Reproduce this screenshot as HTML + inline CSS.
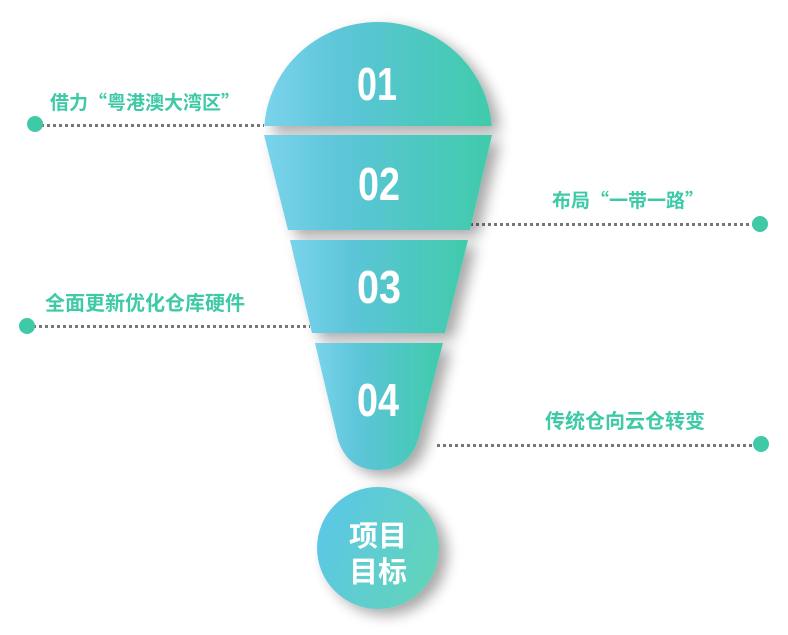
<!DOCTYPE html>
<html><head><meta charset="utf-8"><style>
html,body{margin:0;padding:0;background:#fff;width:788px;height:635px;overflow:hidden}
.t{font-family:"Liberation Sans","Noto Sans CJK SC",sans-serif;font-weight:bold;}
.q{font-family:"Noto Sans CJK SC",sans-serif;}
</style></head><body>
<svg width="788" height="635" viewBox="0 0 788 635" xmlns="http://www.w3.org/2000/svg">
<defs>
<linearGradient id="g" x1="0" y1="0" x2="1" y2="0">
<stop offset="0" stop-color="#7ad3ec"/><stop offset="0.35" stop-color="#5cc5d8"/><stop offset="1" stop-color="#40cbab"/>
</linearGradient>
<linearGradient id="gc" x1="0" y1="0.3" x2="1" y2="0.7">
<stop offset="0" stop-color="#5bc7e6"/><stop offset="1" stop-color="#62d4b8"/>
</linearGradient>
<filter id="sh" x="-30%" y="-30%" width="160%" height="160%">
<feGaussianBlur in="SourceAlpha" stdDeviation="7"/><feOffset dx="8" dy="6"/>
<feComponentTransfer><feFuncA type="linear" slope="0.35"/></feComponentTransfer>
<feMerge><feMergeNode/><feMergeNode in="SourceGraphic"/></feMerge>
</filter>
<clipPath id="c1"><rect x="0" y="0" width="788" height="126"/></clipPath>
</defs>
<g stroke="#777" stroke-width="3" stroke-dasharray="3,3">
<line x1="35" y1="125.5" x2="264" y2="125.5"/>
<line x1="470" y1="224.5" x2="760" y2="224.5"/>
<line x1="27" y1="326.5" x2="310" y2="326.5"/>
<line x1="437" y1="445.5" x2="761" y2="445.5"/>
</g>
<g fill="#3ec9a7">
<circle cx="35" cy="124" r="8"/><circle cx="760" cy="224" r="8"/>
<circle cx="27" cy="326" r="8"/><circle cx="761" cy="444" r="8"/>
</g>
<g filter="url(#sh)">
<g clip-path="url(#c1)"><ellipse cx="378" cy="134" rx="114" ry="112" fill="url(#g)"/></g>
<polygon points="264,135 492,135 470,230 288,230" fill="url(#g)"/>
<polygon points="290,240 468,240 445,333 312,333" fill="url(#g)"/>
<path d="M315,343 L443,343 L418,440 Q408,470 378,470 Q348,470 338,440 Z" fill="url(#g)"/>
<circle cx="378" cy="548" r="61" fill="url(#gc)"/>
</g>
<g fill="#fff" font-size="46" text-anchor="middle" style="font-family:'Liberation Sans',sans-serif;font-weight:bold">
<text x="377" y="100" textLength="40" lengthAdjust="spacingAndGlyphs">01</text>
<text x="379" y="200" textLength="42" lengthAdjust="spacingAndGlyphs">02</text>
<text x="379" y="303" textLength="44" lengthAdjust="spacingAndGlyphs">03</text>
<text x="378" y="416" textLength="42" lengthAdjust="spacingAndGlyphs">04</text>
</g>
<g class="t" fill="#fff" font-size="29" text-anchor="middle">
<text x="378" y="546">项目</text>
<text x="378" y="582">目标</text>
</g>
<g class="t" fill="#3ec9a7" font-size="19">
<text x="50" y="109">借力<tspan class="q">“</tspan>粤港澳大湾区<tspan class="q">”</tspan></text>
<text x="552" y="207">布局<tspan class="q">“</tspan>一带一路<tspan class="q">”</tspan></text>
</g>
<g class="t" fill="#3ec9a7" font-size="20">
<text x="45" y="310">全面更新优化仓库硬件</text>
<text x="545" y="428">传统仓向云仓转变</text>
</g>
</svg>
</body></html>
